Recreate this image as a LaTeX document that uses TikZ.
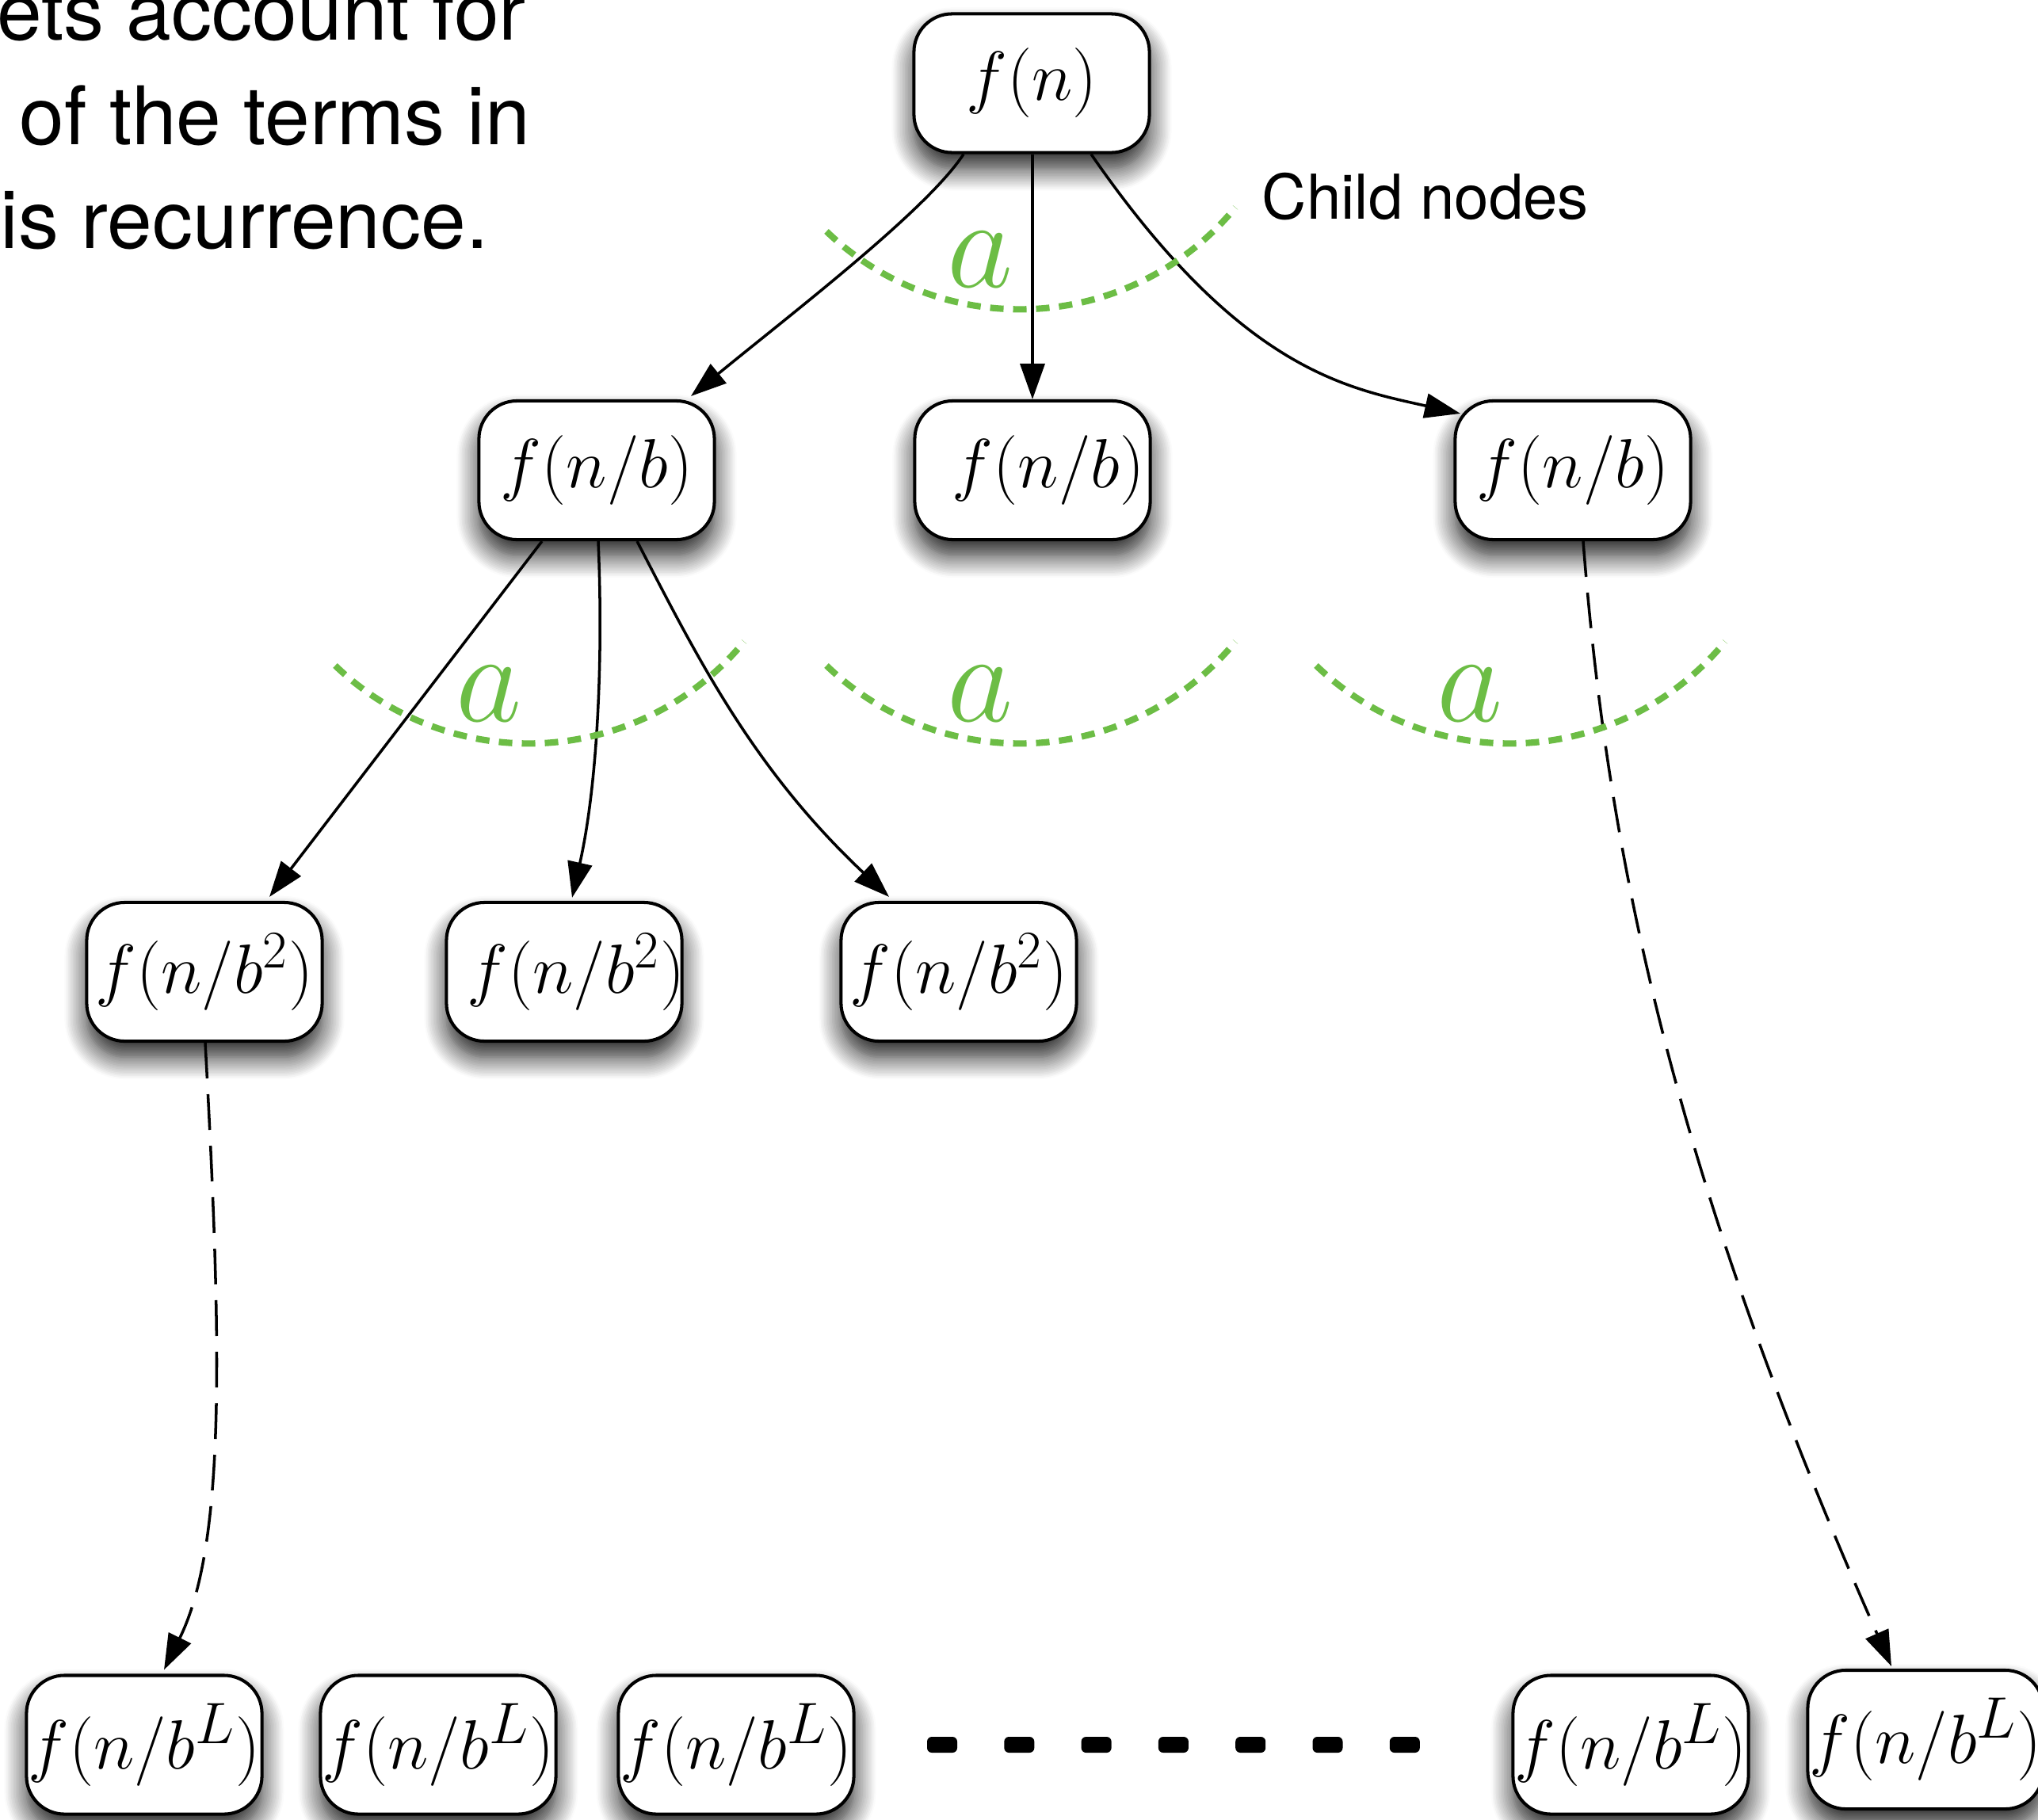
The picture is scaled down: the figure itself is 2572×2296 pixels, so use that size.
\RequirePackage{fix-cm}
\documentclass[tikz,border=0pt]{standalone}
\usepackage{fontspec}
\setsansfont{TeX Gyre Heros}
\usetikzlibrary{arrows.meta,calc,shadows.blur}
\definecolor{arcgreen}{RGB}{108,189,69}
\newcommand{\myBL}{b^{\mbox{\fontsize{21}{21}\selectfont$L$}}}
\newcommand{\myBtwo}{b^{\mbox{\fontsize{19}{19}\selectfont$2$}}}
\begin{document}
\begin{tikzpicture}[x=0.01cm,y=-0.01cm,
  fbox/.style={rectangle, rounded corners=0.48cm,
    draw=black, line width=1.15pt, fill=white,
    minimum width=2.97cm, minimum height=1.75cm, inner sep=0pt,
    font=\fontsize{25}{25}\selectfont,
    blur shadow={shadow xshift=0cm, shadow yshift=-0.2cm,
      shadow blur radius=0.28cm, shadow blur steps=14, shadow opacity=90}},
  edge/.style={draw=black, line width=1pt, rounded corners=0pt,
    -{Triangle[length=0.45cm,width=0.31cm]}},
  dashedge/.style={edge, dash pattern=on 0.45cm off 0.2cm},
  greenarc/.style={draw=arcgreen, line width=2.3pt,
    dash pattern=on 0.17cm off 0.12cm},
  alabel/.style={text=arcgreen, font=\fontsize{46}{46}\selectfont,
    inner sep=0pt, anchor=base},
  prose/.style={anchor=base west, inner sep=0pt,
    font=\sffamily\fontsize{29}{34}\selectfont},
  ellipsisdot/.style={fill=black, rounded corners=0.06cm}
]
\useasboundingbox (0,0) rectangle (2572,2296);
% prose
\node[prose] (t1) at (-4,50) {ets account for};
\node[prose] (t2) at (24,182) {of the terms in};
\node[prose] (t3) at (0,313) {is recurrence.};
\node[anchor=base west, inner sep=0pt, font=\sffamily\fontsize{22.2}{26}\selectfont] (child) at (1592,276) {Child nodes};

% nodes
\node[fbox] (root) at (1302,105) {\makebox[0pt]{$f(n)$}};
\node[fbox] (L1a) at (753,593.5) {\makebox[0pt]{$f(n/b)$}};
\node[fbox] (L1b) at (1303,593.5) {\makebox[0pt]{\kern0.4cm$f(n/b)$}};
\node[fbox] (L1c) at (1985,593.5) {\makebox[0pt]{$f(n/b)$}};
\node[fbox] (L2a) at (258,1226.5) {\makebox[0pt]{$f(n/\myBtwo)$}};
\node[fbox] (L2b) at (712,1226.5) {\makebox[0pt]{\kern0.3cm$f(n/\myBtwo)$}};
\node[fbox] (L2c) at (1210,1226.5) {\makebox[0pt]{$f(n/\myBtwo)$}};
\node[fbox] (B1) at (182,2202) {\makebox[0pt]{$f(n/\myBL)$}};
\node[fbox] (B2) at (553,2202) {\makebox[0pt]{$f(n/\myBL)$}};
\node[fbox] (B3) at (929,2202) {\makebox[0pt]{$f(n/\myBL)$}};
\node[fbox] (B4) at (2058,2202) {\makebox[0pt]{$f(n/\myBL)$}};
\node[fbox] (B5) at (2430,2195.5) {\makebox[0pt]{$f(n/\myBL)$}};

% edges
\draw[edge] ($(root.south)+(-86,0)$) .. controls (1170,265) and (1000,395) .. ($(L1a.north)+(119,-4)$);
\draw[edge] (root.south -| L1b.north) -- (L1b.north);
\draw[edge] ($(root.south)+(75,0)$) .. controls (1565,467) and (1700,490) .. ($(L1c.north)+(-142,18)$);
\draw[edge] ($(L1a.south)+(-69,0)$) -- ($(L2a.north)+(82,-5)$);
\draw[edge] ($(L1a.south)+(2,0)$) .. controls (762,850) and (752,1000) .. ($(L2b.north)+(10,-4)$);
\draw[edge] ($(L1a.south)+(51,0)$) .. controls (880,830) and (950,970) .. ($(L2c.north)+(-88,-5)$);
\draw[dashedge] ($(L2a.south)+(1,0)$) .. controls (280,1700) and (285,1950) .. ($(B1.north)+(25,-5)$);
\draw[dashedge] ($(L1c.south)+(13,0)$) .. controls (2030,1100) and (2120,1500) .. ($(B5.north)+(-43,-3)$);

% green arcs and labels
\draw[greenarc] (1043,292) arc[start angle=133.9, end angle=39.4, radius=352];
\draw[greenarc] (423,840) arc[start angle=133.9, end angle=39.4, radius=352];
\draw[greenarc] (1043,840) arc[start angle=133.9, end angle=39.4, radius=352];
\draw[greenarc] (1661,840) arc[start angle=133.9, end angle=39.4, radius=352];
\node[alabel] (a1) at (1237,362) {$a$};
\node[alabel] (a2) at (617,910) {$a$};
\node[alabel] (a3) at (1237,910) {$a$};
\node[alabel] (a4) at (1855,910) {$a$};

% ellipsis dots
\foreach \k in {0,...,6}
  \fill[ellipsisdot] ({1189+97.3*\k-19},2192) rectangle ({1189+97.3*\k+19},2212);
\end{tikzpicture}
\end{document}
